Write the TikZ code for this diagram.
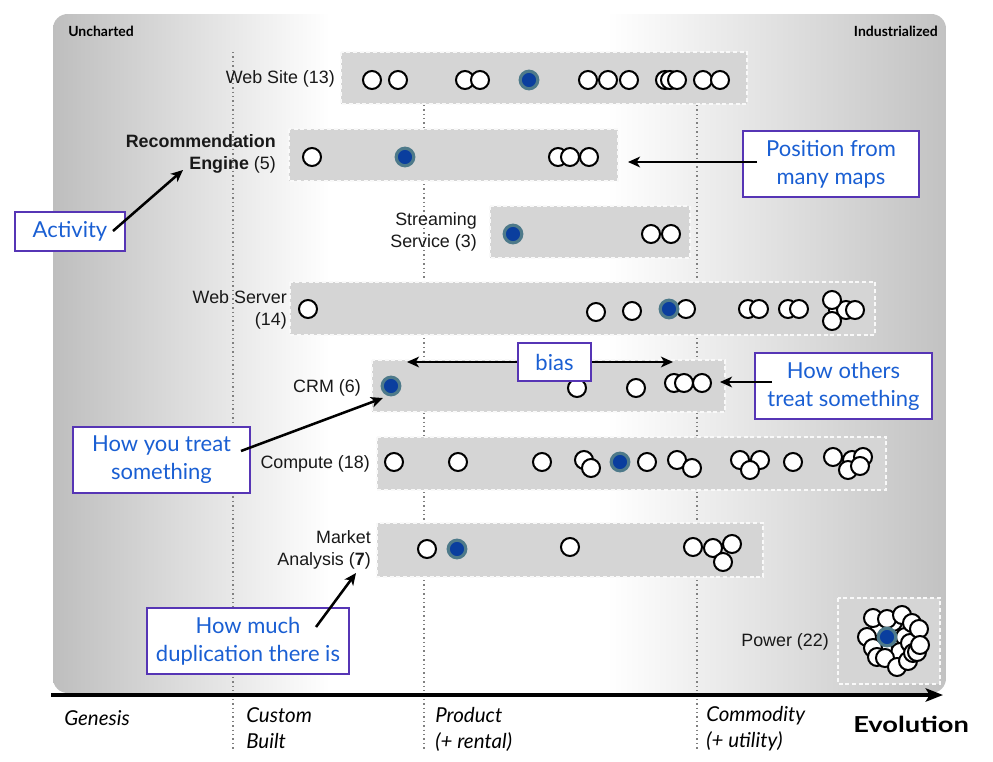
\documentclass[tikz,border=0pt]{standalone}
\usepackage{fontspec}
\setmainfont{Liberation Sans}
\newfontfamily\gill{Lato}
\usetikzlibrary{arrows.meta}
\definecolor{bgl}{HTML}{BEBEBE}
\definecolor{bgr}{HTML}{C2C2C2}
\definecolor{band}{HTML}{D5D5D5}
\definecolor{callblue}{HTML}{1A5FD3}
\definecolor{callframe}{HTML}{5635B5}
\definecolor{dotblue}{HTML}{0A3E9E}
\definecolor{dotring}{HTML}{4E7A8A}
\begin{document}
\begin{tikzpicture}[x=0.75pt,y=-0.75pt,
  wc/.style={circle, draw=black, fill=white, line width=1.5pt, minimum size=13.5pt, inner sep=0pt},
  bc/.style={circle, draw=dotring, fill=dotblue, line width=2.4pt, minimum size=13.2pt, inner sep=0pt},
  bandbox/.style={fill=band, draw=white!85!band, line width=0.8pt, dash pattern=on 3pt off 2pt},
  guide/.style={draw=black!50, line width=1.1pt, dash pattern=on 1.1pt off 2.2pt},
  lab/.style={font=\fontsize{13.4}{16.2}\selectfont, inner sep=0pt, align=right, text=black!90},
  callout/.style={draw=callframe, fill=white, line width=0.8pt, text=callblue, font=\gill\fontsize{16.5}{21}\selectfont, align=center, inner sep=0pt},
  pointer/.style={draw=black, line width=1.9pt, -{Stealth[length=9pt,width=8pt,inset=2.5pt]}},
  twoway/.style={draw=black, line width=1.9pt, {Stealth[length=9pt,width=8pt,inset=2.5pt]}-{Stealth[length=9pt,width=8pt,inset=2.5pt]}},
  stage/.style={font=\gill\itshape\fontsize{15.4}{19.5}\selectfont, inner sep=0pt, align=left, anchor=west},
  corner/.style={font=\gill\bfseries\fontsize{10.5}{12}\selectfont, inner sep=0pt}
]
\useasboundingbox (0,0) rectangle (993,761);

% background
\begin{scope}
\clip[rounded corners=11pt] (53,14) rectangle (946,693);
\fill[white] (53,14) rectangle (946,693);
\shade[left color=bgl,right color=white] (53,14) rectangle (330,693);
\shade[left color=white,right color=bgr] (607,14) rectangle (946,693);
\end{scope}

\node[corner, anchor=west] (unch) at (68,31.5) {Uncharted};
\node[corner, anchor=east] (indu) at (938,31.5) {Industrialized};

% guide lines
\draw[guide] (233,52) -- (233,750);
\draw[guide] (424,52) -- (424,750);
\draw[guide] (697,52) -- (697,750);

% bands
\path[bandbox] (341,52) rectangle (747,104);
\path[bandbox] (289,129) rectangle (618,181);
\path[bandbox] (490,206) rectangle (690,258);
\path[bandbox] (290,282) rectangle (875,335);
\path[bandbox] (372,360) rectangle (725,412);
\path[bandbox] (377,437) rectangle (886,490);
\path[bandbox] (377,523) rectangle (763,577);
\path[bandbox] (838,598) rectangle (940,684);

% axis
\coordinate (axs) at (51,695);
\coordinate (axe) at (943,695);
\draw[line width=3pt, -{Stealth[length=13pt,width=10pt,inset=3pt]}] (axs) -- (axe);

% Web Site
\foreach \x [count=\i] in {372,398,465,480,588,608,629,665,670,677,703,720}
  \node[wc] (ws\i) at (\x,80) {};
\node[bc] (wsY) at (529,80) {};
\node[lab, anchor=east] (lws) at (335,79) {Web Site (13)};

% Recommendation Engine
\foreach \x [count=\i] in {312,558,570,589}
  \node[wc] (re\i) at (\x,157) {};
\node[bc] (reY) at (405,157) {};
\node[lab, anchor=east] (lre) at (276,154) {\bfseries Recommendation\\{\bfseries Engine} (5)};

% Streaming Service
\foreach \x [count=\i] in {651,671}
  \node[wc] (ss\i) at (\x,234) {};
\node[bc] (ssY) at (513,234) {};
\node[lab, anchor=east] (lss) at (477,232) {Streaming\\Service (3)};

% Web Server
\foreach \x/\y [count=\i] in {308/309,596/312,632/311,686/309,748/309,759/309,788/309,799/309,838/310,846/310,855/310,832/300,832/321}
  \node[wc] (wv\i) at (\x,\y) {};
\node[bc] (wvY) at (669,309) {};
\node[lab, anchor=east] (lwv) at (287,310) {Web Server\\(14)};

% CRM
\foreach \x/\y [count=\i] in {577/388,636/388,674/383,684/383,702/383}
  \node[wc] (cr\i) at (\x,\y) {};
\node[bc] (crY) at (391,386) {};
\node[lab, anchor=east] (lcr) at (361,388) {CRM (6)};

% Compute
\foreach \x/\y [count=\i] in {394/462,458/462,542/462,584/460,591/468,647/462,677/460,692/468,740/460,760/460,750/470,793/462,833/457,852/460,863/457,848/470,860/466}
  \node[wc] (cp\i) at (\x,\y) {};
\node[bc] (cpY) at (620,462) {};
\node[lab, anchor=east] (lcp) at (370,464) {Compute (18)};

% Market Analysis
\foreach \x/\y [count=\i] in {427/549,570/547,693/547,713/548,732/544,723/562}
  \node[wc] (ma\i) at (\x,\y) {};
\node[bc] (maY) at (457,549) {};
\node[lab, anchor=east] (lma) at (371,550) {Market\\Analysis ({\bfseries 7})};

% Power
\foreach \x/\y [count=\i] in {880/628,897/628,905/637,900/652,883/648,910/643,893/622,873/618,887/619,902/615,912/623,919/629,867/637,873/648,877/657,885/658,897/667,908/661,913/653,917/652,920/645}
  \node[wc] (pw\i) at (\x,\y) {};
\node[bc] (pwY) at (887,637) {};
\node[lab, anchor=east] (lpw) at (829,642) {Power (22)};

% callouts
\node[callout, minimum width=82.5pt, minimum height=29.25pt] (act) at (70,231.5) {Activity};
\node[callout, minimum width=132pt, minimum height=49.5pt] (pos) at (831,164) {Position from\\many maps};
\node[callout, minimum width=132.75pt, minimum height=49.5pt] (oth) at (843.5,386) {How others\\treat something};
\node[callout, minimum width=132.75pt, minimum height=49.5pt] (you) at (161.5,460) {How you treat\\something};
\node[callout, minimum width=151.5pt, minimum height=49.5pt] (dup) at (248,641) {How much\\duplication there is};

% bias
\coordinate (bl) at (407,362);
\coordinate (br) at (673,362);
\draw[twoway] (bl) -- (br);
\node[callout, minimum width=54.75pt, minimum height=28.5pt] (bias) at (554.5,362) {bias};

% pointers
\coordinate (actS) at (113,231);
\coordinate (actE) at (183,170);
\draw[pointer] (actS) -- (actE);
\coordinate (posS) at (757,162);
\coordinate (posE) at (628,162);
\draw[pointer] (posS) -- (posE);
\coordinate (othS) at (772,382);
\coordinate (othE) at (720,382);
\draw[pointer] (othS) -- (othE);
\coordinate (youS) at (241,451);
\coordinate (youE) at (383,398);
\draw[pointer] (youS) -- (youE);
\coordinate (dupS) at (316,627);
\coordinate (dupE) at (356,573);
\draw[pointer] (dupS) -- (dupE);

% stages
\node[stage] (gen) at (64,718.5) {Genesis};
\node[stage] (cus) at (246,728.5) {Custom\\Built};
\node[stage] (pro) at (435,729) {Product\\(+ rental)};
\node[stage] (com) at (706,729) {Commodity\\(+ utility)};
\node[font=\gill\bfseries\fontsize{16.5}{18}\selectfont, inner sep=0pt, anchor=west] (evo) at (853,724.5) {\scalebox{1.24}[1]{Evolution}};
\end{tikzpicture}
\end{document}
